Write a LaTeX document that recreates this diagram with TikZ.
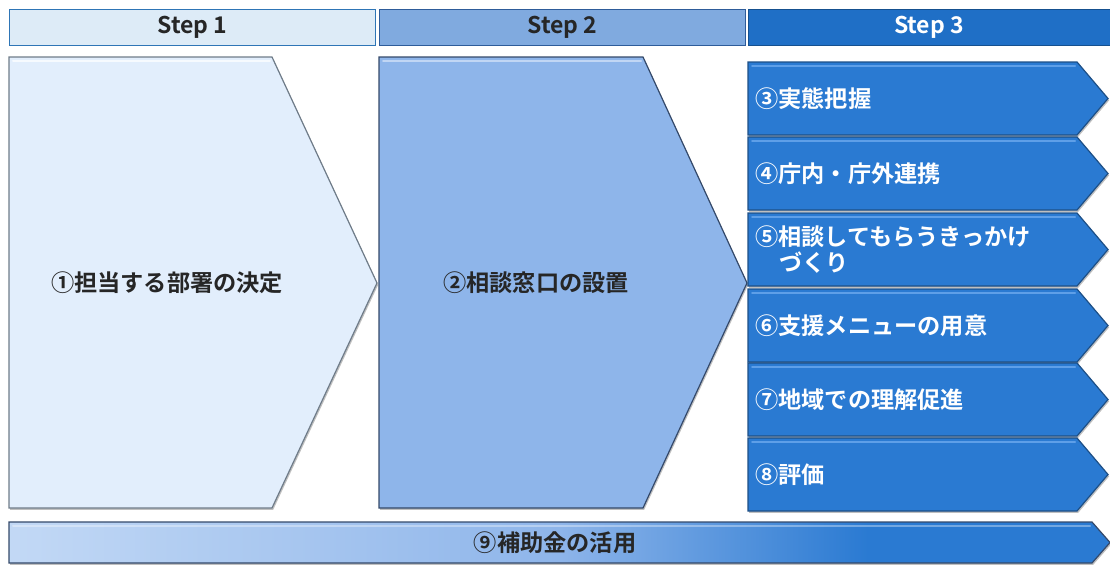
\documentclass[tikz,border=0pt]{standalone}
\usepackage{fontspec}
\setmainfont{Noto Sans CJK JP}[BoldFont={Noto Sans CJK JP Bold}]
\usetikzlibrary{shadows}
\definecolor{hdrAfill}{HTML}{DDEBF7}
\definecolor{hdrAdraw}{HTML}{2E75B6}
\definecolor{hdrBfill}{HTML}{80AADF}
\definecolor{hdrBdraw}{HTML}{2E5C9A}
\definecolor{hdrCfill}{HTML}{1F6FC6}
\definecolor{hdrCdraw}{HTML}{15508F}
\definecolor{pAfill}{HTML}{E2EEFC}
\definecolor{pAdraw}{HTML}{6F7C89}
\definecolor{pBfill}{HTML}{8EB5EA}
\definecolor{pBdraw}{HTML}{34496A}
\definecolor{chfill}{HTML}{2A7AD2}
\definecolor{chdraw}{HTML}{1D4F86}
\definecolor{chhi}{HTML}{5E9FE8}
\definecolor{darktext}{HTML}{262626}
\pgfdeclarehorizontalshading{botshade}{100bp}{color(0bp)=(pAfill); color(10bp)=(pAfill); color(50bp)=(pBfill); color(64bp)=(chfill); color(100bp)=(chfill)}
\tikzset{
  hdr/.style={rectangle, minimum width=366pt, minimum height=36pt, inner sep=0pt, line width=1pt, font=\fontsize{23}{26}\selectfont\bfseries},
  shp/.style={line width=1.2pt, drop shadow={shadow xshift=1.2pt, shadow yshift=-1.8pt, opacity=0.5}},
  hiline/.style={line width=2pt, line cap=round},
  lbl/.style={inner sep=0pt, font=\fontsize{23.2}{26}\selectfont\bfseries, align=left},
}
\begin{document}
\begin{tikzpicture}[x=1pt, y=-1pt]
\useasboundingbox (0,0) rectangle (1110,565);
% headers
\node[hdr, fill=hdrAfill, draw=hdrAdraw, text=darktext] (h1) at (192.5,27) {Step 1};
\node[hdr, fill=hdrBfill, draw=hdrBdraw, text=darktext] (h2) at (562.5,27) {Step 2};
\node[hdr, fill=hdrCfill, draw=hdrCdraw, text=white, minimum width=362pt] (h3) at (929,27) {Step 3};
% step 1 pentagon
\path[shp, fill=pAfill, draw=pAdraw] (9,57) -- (272,57) -- (377,283) -- (272,508) -- (9,508) -- cycle;
\draw[hiline, white!70!pAfill] (13,61) -- (270,61);
\node[lbl, text=darktext] (s1) at (167,283) {①担当する部署の決定};
% step 2 pentagon
\path[shp, fill=pBfill, draw=pBdraw] (379,57) -- (643,57) -- (747,283) -- (643,508) -- (379,508) -- cycle;
\draw[hiline, white!45!pBfill] (383,61) -- (641,61);
\node[lbl, text=darktext] (s2) at (536,283) {②相談窓口の設置};
% step 3 chevrons
\foreach \t/\nm in {62/c3, 137/c4, 213/c5, 289/c6, 363/c7, 438/c8}{
  \path[shp, fill=chfill, draw=chdraw] (748,\t) -- (1077,\t) -- (1108,\t+36.5) -- (1077,\t+73) -- (748,\t+73) -- cycle;
  \draw[hiline, chhi] (752,\t+4) -- (1075,\t+4);
}
\node[lbl, text=white, anchor=west] (t3) at (755,98.5) {③実態把握};
\node[lbl, text=white, anchor=west] (t4) at (755,173.5) {④庁内・庁外連携};
\node[lbl, text=white, anchor=west] (t5) at (755,249.5) {⑤相談してもらうきっかけ\\\hspace*{24pt}づくり};
\node[lbl, text=white, anchor=west] (t6) at (755,325.5) {⑥支援メニューの用意};
\node[lbl, text=white, anchor=west] (t7) at (755,399.5) {⑦地域での理解促進};
\node[lbl, text=white, anchor=west] (t8) at (755,474.5) {⑧評価};
% bottom arrow
\path[shp, shading=botshade, draw=pBdraw] (9,522) -- (1092,522) -- (1110,542.5) -- (1092,563) -- (9,563) -- cycle;
\draw[hiline, white, opacity=0.35] (13,526) -- (1090,526);
\node[lbl, text=darktext] (t9) at (555,543) {⑨補助金の活用};
\end{tikzpicture}
\end{document}
